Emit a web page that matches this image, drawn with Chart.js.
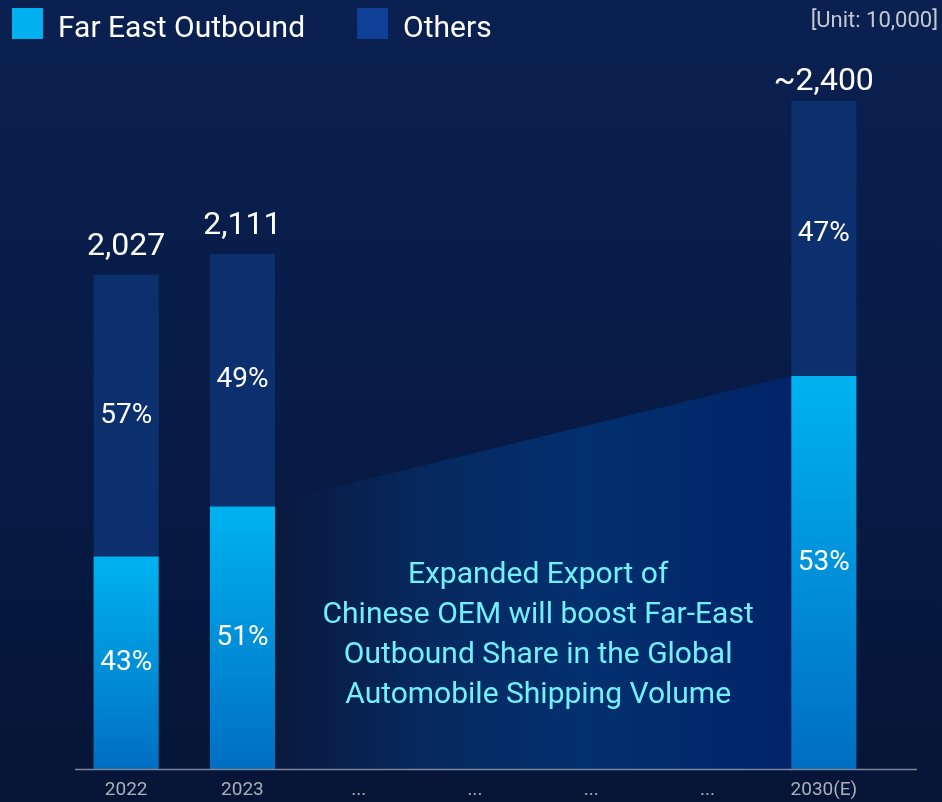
<!DOCTYPE html>
<html><head><meta charset="utf-8">
<script src="https://cdn.jsdelivr.net/npm/chart.js@4.4.1/dist/chart.umd.min.js"></script>
<style>html,body{margin:0;padding:0;background:#071a42;overflow:hidden}canvas{display:block}</style>
</head><body>
<canvas id="c" width="942" height="802"></canvas>
<script>
// ---- data ----
const categories = ['2022', '2023', '...', '...', '...', '...', '2030(E)'];
const totals = [2027, 2111, null, null, null, null, 2400];
const totalIsEstimate = [false, false, false, false, false, false, true];
const farEastShare = [43, 51, null, null, null, null, 53];
const othersShare = [57, 49, null, null, null, null, 47];
// segment heights as drawn in the picture (the 2030(E) bar is drawn taller than to scale)
const farEastValues = [872, 1077, null, null, null, null, 1611];
const othersValues = [1155, 1034, null, null, null, null, 1127];
const seriesNames = ['Far East Outbound', 'Others'];
const unitLabel = '[Unit: 10,000]';
const noteLines = ['Expanded Export of', 'Chinese OEM will boost Far-East', 'Outbound Share in the Global', 'Automobile Shipping Volume'];

// ---- styles ----
const FONT = 'Roboto, "Noto Sans", sans-serif';
const FE_TOP = '#00b3f0', FE_BOTTOM = '#006ec2';
const OTHERS_COLOR = '#0c2f6d';
const LEGEND_COLORS = ['#00b0f0', '#0f3f96'];

function feGradient(ctx) {
  const chart = ctx.chart;
  if (ctx.type !== 'data' || !chart.chartArea || ctx.raw == null) return FE_TOP;
  const y = chart.scales.y;
  const top = y.getPixelForValue(ctx.raw), bot = y.getPixelForValue(0);
  const g = chart.ctx.createLinearGradient(0, top, 0, bot);
  g.addColorStop(0, FE_TOP);
  g.addColorStop(1, FE_BOTTOM);
  return g;
}

const decor = {
  id: 'decor',
  beforeDraw(chart) {
    const {ctx, width, height} = chart;
    ctx.save();
    const g = ctx.createLinearGradient(0, 0, 0, height);
    g.addColorStop(0, '#0a2050');
    g.addColorStop(0.55, '#081b46');
    g.addColorStop(1, '#061536');
    ctx.fillStyle = g;
    ctx.fillRect(0, 0, width, height);
    ctx.restore();
  },
  beforeDatasetsDraw(chart) {
    const {ctx} = chart;
    const meta = chart.getDatasetMeta(0);
    const a = meta.data[1], b = meta.data[6];
    if (!a || !b) return;
    const base = chart.scales.y.getPixelForValue(0);
    const x0 = a.x + a.width / 2, x1 = b.x - b.width / 2;
    ctx.save();
    ctx.beginPath();
    ctx.moveTo(x0, a.y - 5);
    ctx.lineTo(x1, b.y);
    ctx.lineTo(x1, base);
    ctx.lineTo(x0, base);
    ctx.closePath();
    const g = ctx.createLinearGradient(x0, 0, x1, 0);
    g.addColorStop(0, '#09193f');
    g.addColorStop(0.3, '#06295f');
    g.addColorStop(0.6, '#03306f');
    g.addColorStop(1, '#012468');
    ctx.fillStyle = g;
    ctx.fill();
    ctx.restore();
  },
  afterDatasetsDraw(chart) {
    const {ctx} = chart;
    const m0 = chart.getDatasetMeta(0), m1 = chart.getDatasetMeta(1);
    ctx.save();
    ctx.textAlign = 'center';
    ctx.fillStyle = '#ffffff';
    categories.forEach((c, i) => {
      const fe = m0.data[i], ot = m1.data[i];
      if (totals[i] != null && ot) {
        ctx.font = '32px ' + FONT;
        ctx.textBaseline = 'alphabetic';
        const txt = (totalIsEstimate[i] ? '~' : '') + totals[i].toLocaleString('en-US');
        ctx.fillText(txt, ot.x, ot.y - (totalIsEstimate[i] ? 11 : 20));
      }
      ctx.font = '28px ' + FONT;
      ctx.textBaseline = 'middle';
      if (farEastShare[i] != null && fe) {
        ctx.fillText(farEastShare[i] + '%', fe.x, (fe.y + fe.base) / 2 - (totalIsEstimate[i] ? 10 : 0));
      }
      if (othersShare[i] != null && ot) {
        ctx.fillText(othersShare[i] + '%', ot.x, (ot.y + ot.base) / 2 - (totalIsEstimate[i] ? 5 : 0));
      }
    });
    // note text
    const a = m0.data[1], b = m0.data[6];
    const cx = ((a.x + a.width / 2) + (b.x - b.width / 2)) / 2 + 5;
    ctx.fillStyle = '#72f0fc';
    ctx.font = '30px ' + FONT;
    ctx.textBaseline = 'alphabetic';
    noteLines.forEach((l, k) => ctx.fillText(l, cx, 583 + k * 40));
    ctx.restore();
  },
  afterDraw(chart) {
    const {ctx} = chart;
    ctx.save();
    // axis line
    const base = Math.round(chart.scales.y.getPixelForValue(0)) + 0.5;
    ctx.strokeStyle = '#7c8499';
    ctx.lineWidth = 1.5;
    ctx.beginPath();
    ctx.moveTo(75, base);
    ctx.lineTo(917, base);
    ctx.stroke();
    // legend
    ctx.font = '30px ' + FONT;
    ctx.textBaseline = 'alphabetic';
    ctx.textAlign = 'left';
    let x = 12;
    seriesNames.forEach((n, k) => {
      ctx.fillStyle = LEGEND_COLORS[k];
      ctx.fillRect(x, 8, 31, 31);
      ctx.fillStyle = '#ffffff';
      ctx.fillText(n, x + 46, 37);
      x += 46 + ctx.measureText(n).width + 52;
    });
    // unit
    ctx.font = '22px ' + FONT;
    ctx.fillStyle = '#c3c8d2';
    ctx.textAlign = 'right';
    ctx.fillText(unitLabel, 938, 27);
    ctx.restore();
  }
};

new Chart(document.getElementById('c'), {
  type: 'bar',
  data: {
    labels: categories,
    datasets: [
      {label: seriesNames[0], data: farEastValues, backgroundColor: feGradient, borderWidth: 0},
      {label: seriesNames[1], data: othersValues, backgroundColor: OTHERS_COLOR, borderWidth: 0}
    ]
  },
  options: {
    responsive: false,
    devicePixelRatio: 1,
    animation: false,
    layout: {padding: {left: 68, right: 60, top: 60, bottom: 0}},
    datasets: {bar: {categoryPercentage: 1, barPercentage: 0.56}},
    plugins: {legend: {display: false}, tooltip: {enabled: false}},
    scales: {
      x: {
        stacked: true,
        grid: {display: false},
        border: {display: false},
        ticks: {color: '#a9afbd', font: {family: FONT, size: 19}, padding: 2, maxRotation: 0, autoSkip: false},
        afterFit(s) { s.height = 32.7; }
      },
      y: {stacked: true, display: false, min: 0, max: 2906}
    }
  },
  plugins: [decor]
});
</script>
</body></html>
